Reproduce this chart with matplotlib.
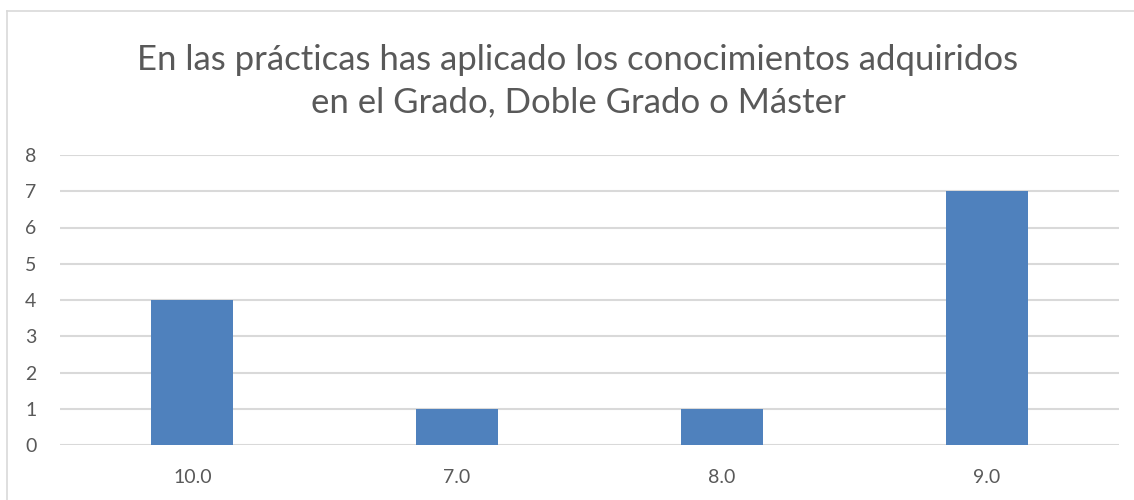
import matplotlib
import matplotlib.pyplot as plt
from matplotlib.lines import Line2D

matplotlib.use("Agg")
plt.rcParams["font.family"] = ["Lato", "DejaVu Sans"]

categories = ["10.0", "7.0", "8.0", "9.0"]
values = [4, 1, 1, 7]
yticks = [0, 1, 2, 3, 4, 5, 6, 7, 8]
title = "En las prácticas has aplicado los conocimientos adquiridos\nen el Grado, Doble Grado o Máster"

text_color = "#595959"
grid_color = "#d9d9d9"
bar_color = "#4f81bd"

W, H = 1134, 500
fig = plt.figure(figsize=(W / 100, H / 100), dpi=100)
ax = fig.add_axes([60 / W, (H - 445) / H, (1119 - 60) / W, (445 - 155) / H])

ax.bar(range(len(categories)), values, width=0.31, color=bar_color, zorder=3)
ax.set_xlim(-0.5, len(categories) - 0.5)
ax.set_ylim(0, 8)
ax.set_yticks(yticks)
ax.set_xticks(range(len(categories)))
ax.set_xticklabels(categories)
ax.yaxis.grid(True, color=grid_color, linewidth=1.5, zorder=0)
for s in ax.spines.values():
    s.set_visible(False)
ax.tick_params(length=0, colors=text_color, labelsize=14)
ax.tick_params(axis="y", pad=25)
ax.tick_params(axis="x", pad=17)
for lab in ax.get_yticklabels():
    lab.set_horizontalalignment("left")

fig.text(578 / W, 1 - 81 / H, title, ha="center", va="center", fontsize=25,
         color=text_color, linespacing=1.4)

# chart border (partly cropped in the original)
fig.add_artist(Line2D([7 / W, 1], [1 - 11 / H, 1 - 11 / H], color=grid_color, lw=1.2))
fig.add_artist(Line2D([7 / W, 7 / W], [0, 1 - 11 / H], color=grid_color, lw=1.2))

fig.savefig("out.png", dpi=100)
